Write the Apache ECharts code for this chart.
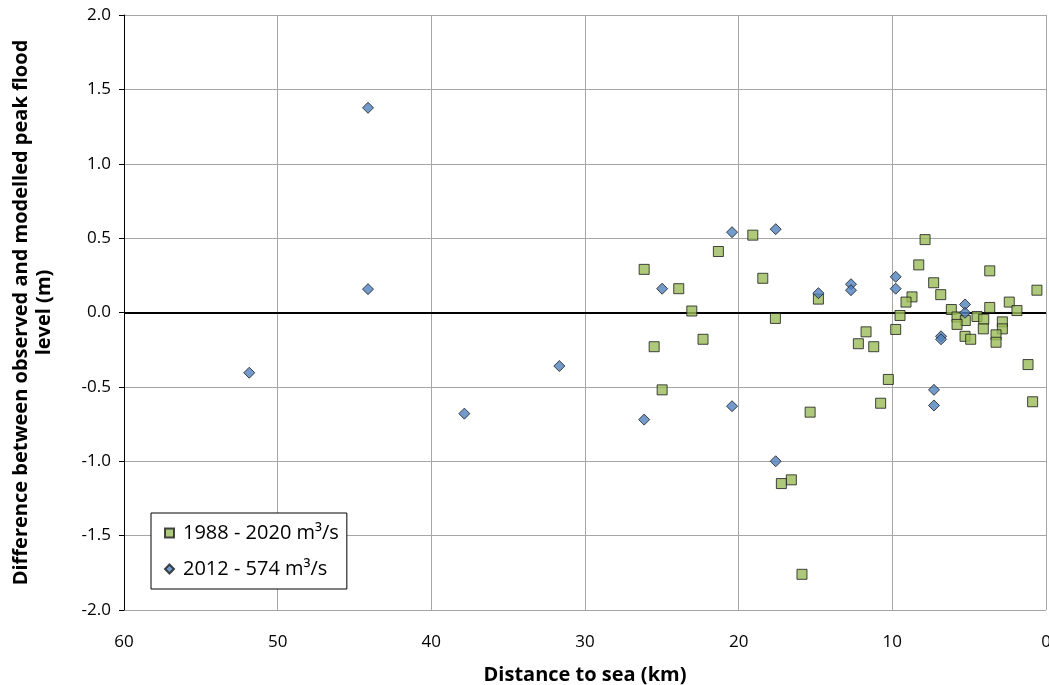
<!DOCTYPE html>
<html>
<head>
<meta charset="utf-8">
<script src="https://cdn.jsdelivr.net/npm/echarts@6/dist/echarts.min.js"></script>
<style>
html,body{margin:0;padding:0;background:#fff;}
#chart{width:1049px;height:685px;}
</style>
</head>
<body>
<div id="chart"></div>
<script>
const series1988Name = '1988 - 2020 m³/s';
const series2012Name = '2012 - 574 m³/s';
const xTicks = [0, 10, 20, 30, 40, 50, 60];
const yTicks = [-2.0, -1.5, -1.0, -0.5, 0.0, 0.5, 1.0, 1.5, 2.0];
const xTitle = 'Distance to sea (km)';
const yTitle = 'Difference between observed and modelled peak flood\nlevel (m)';

const data1988 = [
  [26.15,0.29],[21.32,0.41],[19.08,0.52],[23.9,0.16],[18.43,0.23],[14.81,0.09],
  [23.05,0.01],[17.61,-0.04],[22.32,-0.18],[25.5,-0.23],[24.98,-0.52],
  [7.87,0.49],[8.28,0.32],[3.66,0.28],[7.31,0.20],[0.59,0.15],[6.85,0.12],
  [8.72,0.105],[9.11,0.07],[2.39,0.07],[6.16,0.02],[3.66,0.034],[1.89,0.013],
  [9.5,-0.02],[5.79,-0.03],[4.49,-0.027],[4.05,-0.045],[5.25,-0.054],[5.79,-0.08],
  [2.84,-0.063],[2.84,-0.11],[9.78,-0.114],[4.08,-0.11],[11.71,-0.13],[3.25,-0.15],
  [5.27,-0.16],[4.9,-0.18],[3.25,-0.20],[12.21,-0.21],[11.21,-0.23],[1.17,-0.35],
  [10.26,-0.45],[0.87,-0.60],[10.76,-0.61],[15.35,-0.67],[17.22,-1.15],[16.57,-1.125],
  [15.88,-1.76]
];
const data2012 = [
  [51.85,-0.405],[44.12,1.376],[44.12,0.157],[37.85,-0.68],[31.67,-0.36],[26.15,-0.72],
  [24.98,0.16],[20.43,0.54],[20.43,-0.63],[17.59,0.56],[17.59,-1.00],[14.81,0.13],
  [12.69,0.19],[12.69,0.15],[9.78,0.24],[9.78,0.16],[6.83,-0.16],[6.83,-0.18],
  [5.27,0.054],[5.27,-0.002],[7.29,-0.52],[7.29,-0.625]
];

const FONT = 'Open Sans';
const chart = echarts.init(document.getElementById('chart'), null, {renderer:'canvas'});
chart.setOption({
  animation: false,
  backgroundColor: '#fff',
  grid: {left:124, right:3, top:15, bottom:75, containLabel:false, outerBoundsMode:'none'},
  xAxis: {
    type:'value', min:xTicks[0], max:xTicks[xTicks.length-1], interval:10, inverse:true,
    name:xTitle, nameLocation:'middle', nameGap:55,
    nameTextStyle:{fontFamily:FONT, fontWeight:'bold', fontSize:20, color:'#000'},
    axisLine:{show:true, lineStyle:{color:'#868686', width:1}},
    axisTick:{show:false},
    axisLabel:{fontFamily:FONT, fontSize:17, color:'#000', margin:24},
    splitLine:{show:true, lineStyle:{color:'#a6a6a6', width:1}}
  },
  yAxis: {
    type:'value', min:yTicks[0], max:yTicks[yTicks.length-1], interval:0.5,
    name:yTitle, nameLocation:'middle', nameGap:68, nameRotate:90,
    nameTextStyle:{fontFamily:FONT, fontWeight:'bold', fontSize:20, color:'#000', lineHeight:23, align:'center'},
    axisLine:{show:true, onZero:false, lineStyle:{color:'#000', width:1}},
    axisTick:{show:true, inside:false, length:5, lineStyle:{color:'#000'}},
    axisLabel:{fontFamily:FONT, fontSize:17, color:'#000', margin:13, formatter:v=>v.toFixed(1)},
    splitLine:{show:true, lineStyle:{color:'#a6a6a6', width:1}}
  },
  legend: {
    show:true, orient:'vertical', left:151, top:513,
    backgroundColor:'#fff', borderColor:'#000', borderWidth:1, borderRadius:0,
    padding:[10,8,10,13], itemGap:16, itemWidth:9, itemHeight:9,
    textStyle:{fontFamily:FONT, fontSize:20, lineHeight:20, color:'#000', padding:[0,0,0,4]},
    data:[{name:series1988Name, icon:'rect'},{name:series2012Name, icon:'diamond'}]
  },
  series: [
    {
      name:series1988Name, type:'scatter', symbol:'rect', symbolSize:10,
      itemStyle:{color:'#9BBB59', borderColor:'#1a1a1a', borderWidth:1},
      data:data1988, z:3,
      markLine:{silent:true, symbol:'none', label:{show:false},
        lineStyle:{color:'#000', width:2, type:'solid'},
        data:[{yAxis:0}], z:2}
    },
    {
      name:series2012Name, type:'scatter', symbol:'diamond', symbolSize:11,
      itemStyle:{color:'#4F81BD', borderColor:'#1a1a1a', borderWidth:1},
      data:data2012, z:4
    }
  ]
});
</script>
</body>
</html>
